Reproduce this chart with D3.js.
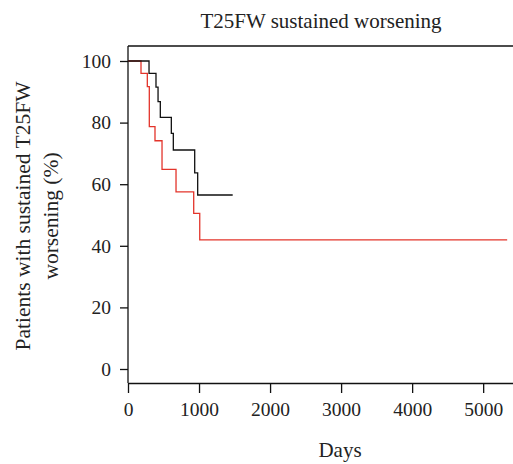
<!DOCTYPE html>
<html><head><meta charset="utf-8">
<script src="https://cdn.jsdelivr.net/npm/d3@7"></script>
<style>body{margin:0;background:#fff}svg{display:block}text{font-family:"Liberation Serif","DejaVu Serif",serif;fill:#222}</style>
</head><body>
<script>
const title = "T25FW sustained worsening";
const xLabel = "Days";
const yLabelLines = ["Patients with sustained T25FW", "worsening (%)"];
const xTicks = [0, 1000, 2000, 3000, 4000, 5000];
const yTicks = [0, 20, 40, 60, 80, 100];
// Kaplan-Meier step curves: times (days) and percent
const blackTimes = [0, 296, 394, 423, 455, 610, 638, 939, 981, 1474];
const blackValues = [100, 96.0, 91.5, 86.8, 81.7, 76.5, 71.1, 63.7, 56.5, 56.5];
const redTimes = [0, 183, 272, 300, 380, 479, 676, 925, 1010, 5338];
const redValues = [100, 96.0, 91.7, 78.7, 74.1, 64.8, 57.5, 50.5, 41.9, 41.9];

const W = 513, H = 464;
const svg = d3.select("body").append("svg").attr("width", W).attr("height", H);
const x = d3.scaleLinear().domain([0, 5420]).range([128, 513]);
const y = d3.scaleLinear().domain([0, 100]).range([369, 61]);
const yTop = 46, yBot = 383;

svg.append("line").attr("x1", 128).attr("x2", W).attr("y1", yTop).attr("y2", yTop).attr("stroke", "#111").attr("stroke-width", 1.3);
svg.append("line").attr("x1", 128).attr("x2", 128).attr("y1", yTop).attr("y2", yBot).attr("stroke", "#111").attr("stroke-width", 1.3);

const xAxis = svg.append("g").attr("transform", `translate(0,${yBot})`)
  .call(d3.axisBottom(x).tickValues(xTicks).tickSize(10).tickSizeOuter(0).tickPadding(9).tickFormat(d3.format("d")));
const yAxis = svg.append("g").attr("transform", `translate(128,0)`)
  .call(d3.axisLeft(y).tickValues(yTicks).tickSize(8).tickSizeOuter(0).tickPadding(9));
yAxis.select(".domain").remove();
[xAxis, yAxis].forEach(g => {
  g.selectAll("path,line").attr("stroke", "#111").attr("stroke-width", 1.3);
  g.selectAll("text").style("font-size", "19.5px").attr("fill", "#222").style("font-family", '"Liberation Serif",serif');
});

const line = d3.line().x(d => x(d[0])).y(d => y(d[1])).curve(d3.curveStepAfter);
svg.append("path").datum(redTimes.map((t, i) => [t, redValues[i]]))
  .attr("d", line).attr("fill", "none").attr("stroke", "#e3342b").attr("stroke-width", 1.3);
svg.append("path").datum(blackTimes.map((t, i) => [t, blackValues[i]]))
  .attr("d", line).attr("fill", "none").attr("stroke", "#111").attr("stroke-width", 1.3);

svg.append("text").attr("x", 321).attr("y", 28).attr("text-anchor", "middle").style("font-size", "21px").text(title);
svg.append("text").attr("x", 340).attr("y", 457).attr("text-anchor", "middle").style("font-size", "21px").text(xLabel);
const yl = svg.append("text").attr("transform", "translate(0,216) rotate(-90)").attr("text-anchor", "middle").style("font-size", "21.5px");
yl.selectAll("tspan").data(yLabelLines).join("tspan").attr("x", 0).attr("y", (d, i) => 30 + i * 28).text(d => d);
</script>
</body></html>
